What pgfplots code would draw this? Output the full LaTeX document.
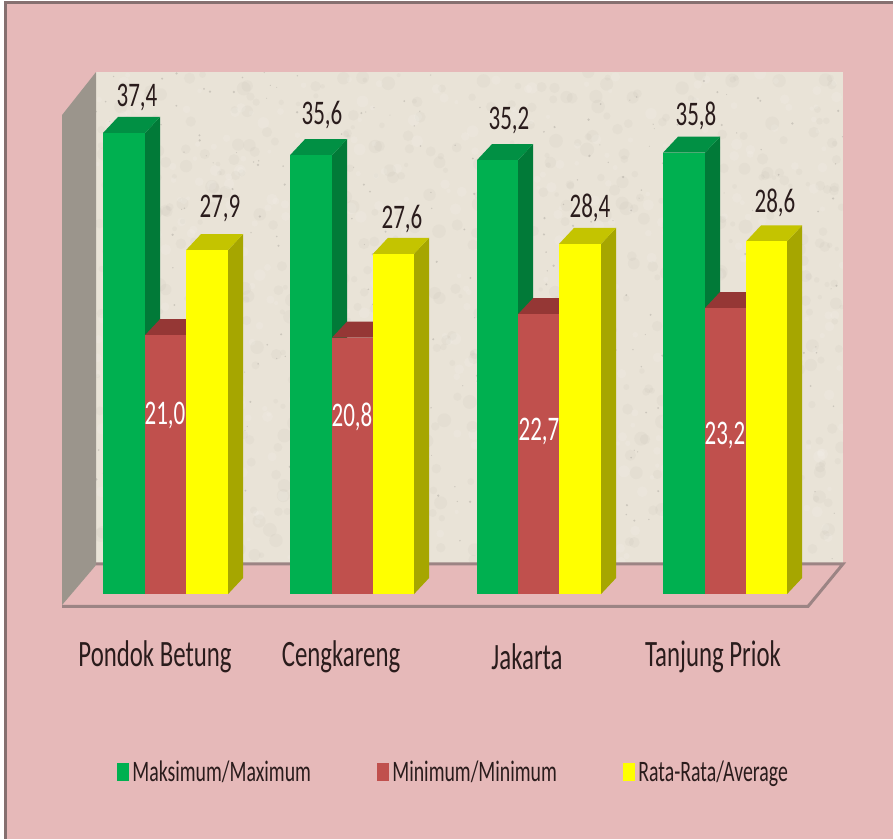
\documentclass[border=0pt]{standalone}
\usepackage{pgfplots}
\usepackage{graphicx}
\usepackage{fontspec}
\setmainfont{Carlito}
\pgfplotsset{compat=1.18}
\definecolor{bgp}{HTML}{E6B9B9}
\definecolor{wallc}{HTML}{E9E3D7}
\definecolor{sidew}{HTML}{9B958C}
\definecolor{linec}{HTML}{9C8484}
\definecolor{gF}{HTML}{00B050}\definecolor{gS}{HTML}{017A38}\definecolor{gT}{HTML}{019044}
\definecolor{rF}{HTML}{C0504D}\definecolor{rS}{HTML}{8A3936}\definecolor{rT}{HTML}{953735}
\definecolor{yF}{HTML}{FFFF00}\definecolor{yS}{HTML}{A6A600}\definecolor{yT}{HTML}{C4C400}
\definecolor{txt}{HTML}{2A1C1C}
\newcommand\vt[1]{{\fontsize{23}{25}\selectfont\scalebox{1}[1.5]{#1}}}
\newcommand\xt[1]{{\fontsize{24.8}{27}\selectfont\scalebox{1}[1.5]{#1}}}
\newcommand\lt[1]{{\fontsize{19.8}{22}\selectfont\scalebox{1}[1.5]{#1}}}
\newcommand\bart[5]{% x0, x1, value, colour stem
\addplot[fill=#4S,draw=none,forget plot] coordinates {(#2,0)(#2+15,1.3)(#2+15,#3+1.3)(#2,#3)} -- cycle;
\addplot[fill=#4T,draw=none,forget plot] coordinates {(#1,#3)(#2,#3)(#2+15,#3+1.3)(#1+15,#3+1.3)} -- cycle;
\addplot[ybar,bar shift=0pt,bar width=#5,fill=#4F,draw=none,forget plot] coordinates {({(#1+#2)/2},#3)};
}
\newcommand\lab[4][txt]{\node[text=#1,inner sep=0pt] at (axis cs:#2,{(594-#3)/12.33}) {\vt{#4}};}
\begin{document}
\begin{tikzpicture}
% frame and background
\fill[white] (0pt,0pt) rectangle (893pt,839pt);
\fill[bgp] (4pt,0pt) rectangle (893pt,838pt);
\fill[linec!85!black] (4pt,0pt) rectangle (6.5pt,838pt);
\fill[linec!85!black] (4pt,835pt) rectangle (893pt,838pt);
% walls
\fill[wallc] (96pt,276pt) rectangle (843pt,767pt);
\begin{scope}
\clip (96pt,276pt) rectangle (843pt,767pt);
\pgfmathsetseed{42}
\foreach \i in {1,...,700}{
  \pgfmathsetmacro\xx{96+747*rnd}
  \pgfmathsetmacro\yy{276+491*rnd}
  \pgfmathsetmacro\rr{2+5*rnd}
  \fill[black!40!wallc,opacity=0.05] (\xx pt,\yy pt) circle (\rr pt);
}
\foreach \i in {1,...,500}{
  \pgfmathsetmacro\xx{96+747*rnd}
  \pgfmathsetmacro\yy{276+491*rnd}
  \pgfmathsetmacro\rr{2+4*rnd}
  \fill[white,opacity=0.10] (\xx pt,\yy pt) circle (\rr pt);
}
\foreach \i in {1,...,350}{
  \pgfmathsetmacro\xx{96+747*rnd}
  \pgfmathsetmacro\yy{276+491*rnd}
  \pgfmathsetmacro\rr{0.5+0.8*rnd}
  \fill[black!50!wallc,opacity=0.25] (\xx pt,\yy pt) circle (\rr pt);
}
\end{scope}
\fill[sidew] (96pt,767pt) -- (62pt,724pt) -- (62pt,234pt) -- (96pt,274pt) -- cycle;
\begin{axis}[
  scale only axis, width=893pt, height=839pt,
  xmin=0, xmax=893, ymin=-19.87, ymax=48.18,
  axis line style={draw=none}, major tick length=0pt,
  ytick=\empty,
  xtick={155,341,527,713},
  xticklabels={\xt{Pondok Betung},\xt{Cengkareng},\xt{Jakarta},\xt{Tanjung Priok}},
  xticklabel style={text=txt,inner sep=0pt,anchor=center,yshift=182pt},
  clip=false,
  legend columns=3,
  legend style={at={(axis cs:117,{(594-772)/12.33})},anchor=west,draw=none,fill=none,inner sep=0pt,outer sep=0pt,
    /tikz/every even column/.append style={column sep=66pt},
    nodes={inner sep=0pt,text=txt}},
]
% floor
\addplot[draw=linec,line width=3pt,forget plot] coordinates {(62,-1)(808,-1)(843,2.45)(96,2.45)};
\bart{103}{145}{37.4}{g}{42}\bart{145}{186}{21.0}{r}{41}\bart{186}{228}{27.9}{y}{42}
\bart{290}{332}{35.6}{g}{42}\bart{332}{373}{20.8}{r}{41}\bart{373}{414}{27.6}{y}{41}
\bart{477}{518}{35.2}{g}{41}\bart{518}{559}{22.7}{r}{41}\bart{559}{601}{28.4}{y}{42}
\bart{663}{705}{35.8}{g}{42}\bart{705}{746}{23.2}{r}{41}\bart{746}{787}{28.6}{y}{41}
\lab{137}{97}{37,4}\lab{322}{115}{35,6}\lab{509}{120}{35,2}\lab{696}{116}{35,8}
\lab{220}{208}{27,9}\lab{402}{219}{27,6}\lab{590}{208}{28,4}\lab{775}{203}{28,6}
\lab[white]{165}{415}{21,0}\lab[white]{352}{417}{20,8}\lab[white]{539}{431}{22,7}\lab[white]{725}{435}{23,2}
\addlegendimage{legend image code/.code={\fill[gF] (0pt,-8.5pt) rectangle (11pt,8.5pt);}}
\addlegendimage{legend image code/.code={\fill[rF] (0pt,-8.5pt) rectangle (11pt,8.5pt);}}
\addlegendimage{legend image code/.code={\fill[yF] (0pt,-8.5pt) rectangle (11pt,8.5pt);}}
\addlegendentry{\hspace{4pt}\lt{Maksimum/Maximum}}
\addlegendentry{\hspace{4pt}\lt{Minimum/Minimum}\hspace{-12pt}}
\addlegendentry{\hspace{4pt}\lt{Rata-Rata/Average}}
\end{axis}
\end{tikzpicture}
\end{document}
